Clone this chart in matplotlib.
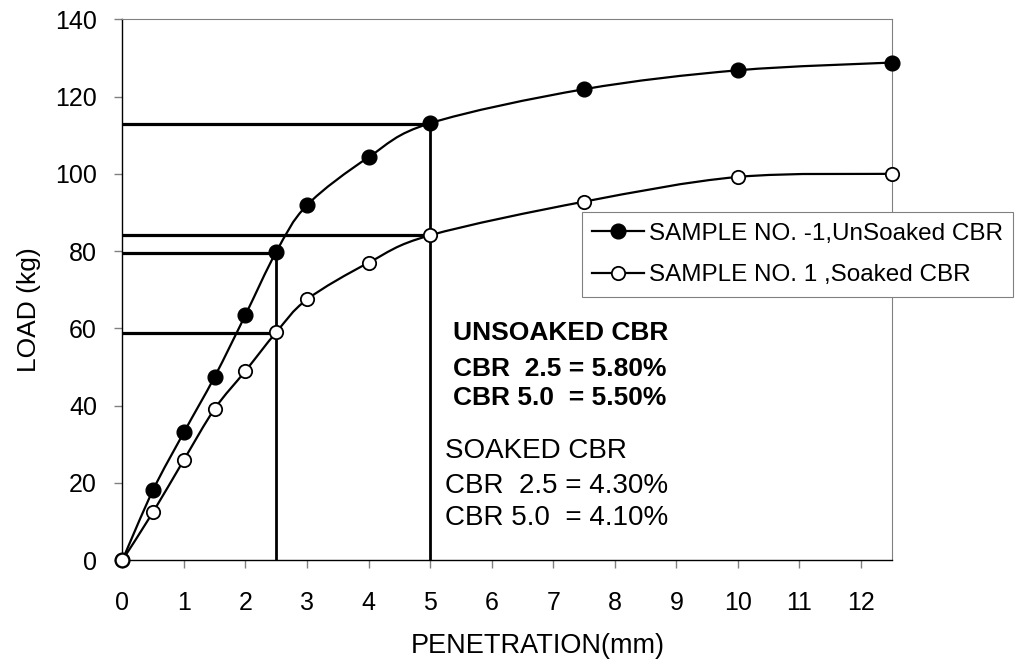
import matplotlib
matplotlib.use("Agg")
import matplotlib.pyplot as plt
from matplotlib.path import Path
from matplotlib.patches import PathPatch
from matplotlib.lines import Line2D

plt.rcParams['font.family'] = ['Liberation Sans', 'DejaVu Sans']

# Penetration readings (mm) and measured loads (kg)
penetration = [0, 0.5, 1, 1.5, 2, 2.5, 3, 4, 5, 7.5, 10, 12.5]
load_unsoaked = [0, 18.2, 33.1, 47.5, 63.5, 79.8, 91.9, 104.3, 113.1, 121.9, 126.8, 128.8]
load_soaked = [0, 12.5, 26.0, 39.2, 49.0, 59.0, 67.5, 77.0, 84.1, 92.8, 99.2, 100.0]

series_labels = ["SAMPLE NO. -1,UnSoaked CBR", "SAMPLE NO. 1 ,Soaked CBR"]

# CBR results at the two standard penetrations
cbr_pen = [2.5, 5.0]
standard_load = [1370, 2055]          # kg, standard loads at 2.5 mm and 5.0 mm
cbr_unsoaked = [5.80, 5.50]           # %
cbr_soaked = [4.30, 4.10]             # %

x_ticks = list(range(0, 13))
y_ticks = list(range(0, 141, 20))


def smooth_path(xs, ys):
    """Cubic Bezier path through every point (Catmull-Rom style smoothing)."""
    pts = list(zip(xs, ys))
    n = len(pts)
    verts = [pts[0]]
    codes = [Path.MOVETO]
    for i in range(n - 1):
        p0 = pts[i - 1] if i > 0 else pts[i]
        p1 = pts[i]
        p2 = pts[i + 1]
        p3 = pts[i + 2] if i + 2 < n else pts[i + 1]
        c1 = (p1[0] + (p2[0] - p0[0]) / 6.0, p1[1] + (p2[1] - p0[1]) / 6.0)
        c2 = (p2[0] - (p3[0] - p1[0]) / 6.0, p2[1] - (p3[1] - p1[1]) / 6.0)
        verts += [c1, c2, p2]
        codes += [Path.CURVE4] * 3
    return Path(verts, codes)


fig = plt.figure(figsize=(10.17, 6.6), dpi=100)
ax = fig.add_axes([0.1203, 0.1511, 0.7566, 0.8197])

tick_fs = 18
legend_fs = 17.5

# Reference lines for CBR readings
for vals in (cbr_unsoaked, cbr_soaked):
    for pen, cbr, std in zip(cbr_pen, vals, standard_load):
        level = cbr / 100.0 * std
        ax.plot([0, pen], [level, level], color='black', lw=2.3, solid_capstyle='butt', zorder=2)
for pen, cbr, std in zip(cbr_pen, cbr_unsoaked, standard_load):
    level = cbr / 100.0 * std
    ax.plot([pen, pen], [0, level], color='black', lw=2.0, solid_capstyle='butt', zorder=2)

# Smoothed load-penetration curves
for ys in (load_unsoaked, load_soaked):
    ax.add_patch(PathPatch(smooth_path(penetration, ys), fill=False, edgecolor='black',
                           lw=1.6, zorder=3))

ax.plot(penetration, load_unsoaked, linestyle='none', marker='o', ms=10.6,
        mfc='black', mec='black', zorder=4, clip_on=False)
ax.plot(penetration, load_soaked, linestyle='none', marker='o', ms=9.6,
        mfc='white', mec='black', mew=1.3, zorder=4, clip_on=False)

ax.set_xlim(0, 12.5)
ax.set_ylim(0, 140)
ax.set_xticks(x_ticks)
ax.set_yticks(y_ticks)
ax.tick_params(axis='both', direction='out', length=5.8, width=1.0, color='#808080',
               labelsize=tick_fs)
ax.tick_params(axis='x', pad=16.5)
ax.tick_params(axis='y', pad=12.5)

for side in ('left', 'bottom'):
    ax.spines[side].set_color('black')
    ax.spines[side].set_linewidth(1.0)
for side in ('top', 'right'):
    ax.spines[side].set_color('#808080')
    ax.spines[side].set_linewidth(0.8)

ax.set_xlabel("PENETRATION(mm)", fontsize=19.5)
ax.xaxis.label.set_va('baseline')
ax.xaxis.set_label_coords(0.54, -0.1713)
ax.set_ylabel("LOAD (kg)", fontsize=19)
ax.yaxis.set_label_coords(-0.106, 0.4636)

# Result annotations
unsoaked_lines = [
    "UNSOAKED CBR",
    "CBR  {:.1f} = {:.2f}%".format(cbr_pen[0], cbr_unsoaked[0]),
    "CBR {:.1f}  = {:.2f}%".format(cbr_pen[1], cbr_unsoaked[1]),
]
soaked_lines = [
    "SOAKED CBR",
    "CBR  {:.1f} = {:.2f}%".format(cbr_pen[0], cbr_soaked[0]),
    "CBR {:.1f}  = {:.2f}%".format(cbr_pen[1], cbr_soaked[1]),
]
for line, yy in zip(unsoaked_lines, [58.7, 49.6, 41.9]):
    ax.text(5.377, yy, line, fontsize=19, fontweight='bold', va='center', ha='left')
for line, yy in zip(soaked_lines, [28.3, 19.2, 11.0]):
    ax.text(5.245, yy, line, fontsize=20, va='center', ha='left')

handles = [
    Line2D([], [], color='black', lw=1.6, marker='o', ms=10.6, mfc='black', mec='black'),
    Line2D([], [], color='black', lw=1.6, marker='o', ms=9.6, mfc='white', mec='black', mew=1.3),
]
leg = ax.legend(handles, series_labels, loc='upper left', bbox_to_anchor=(0.597, 0.643),
                borderaxespad=0, fontsize=legend_fs, frameon=True, fancybox=False,
                edgecolor='#808080', framealpha=1, handlelength=2.15, handletextpad=0.2,
                borderpad=0.42, labelspacing=0.81)
leg.get_frame().set_linewidth(0.8)
leg.set_zorder(5)

fig.savefig("out.png", dpi=100)
